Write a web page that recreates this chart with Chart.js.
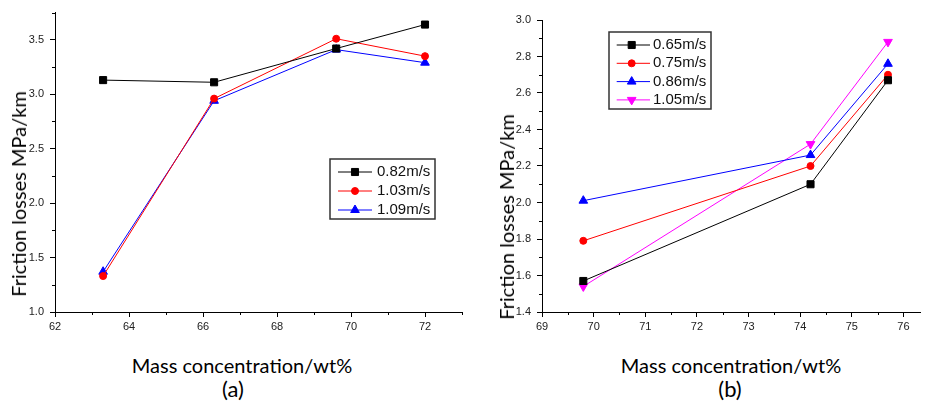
<!DOCTYPE html>
<html>
<head>
<meta charset="utf-8">
<script src="https://cdn.jsdelivr.net/npm/chart.js@4/dist/chart.umd.min.js"></script>
<style>
  body { margin: 0; width: 926px; height: 405px; background: #fff; position: relative; overflow: hidden; font-family: Lato, "Liberation Sans", sans-serif; color: #000; }
  canvas { position: absolute; top: 0; }
  .ytitle { position: absolute; font-size: 20px; white-space: nowrap; transform: translate(-50%, -50%) rotate(-90deg); }
  .xtitle { position: absolute; font-size: 20px; white-space: nowrap; transform: translate(-50%, -50%); }
  .tag { position: absolute; font-size: 22px; transform: translate(-50%, -50%); }
</style>
</head>
<body>
<canvas id="chartA" width="470" height="345" style="left:0"></canvas>
<canvas id="chartB" width="456" height="345" style="left:470px"></canvas>

<div class="ytitle" style="left:18px; top:194px">Friction losses MPa/km</div>
<div class="ytitle" style="left:506px; top:217px">Friction losses MPa/km</div>
<div class="xtitle" style="left:242px; top:365px">Mass concentration/wt%</div>
<div class="xtitle" style="left:731px; top:365px">Mass concentration/wt%</div>
<div class="tag" style="left:233px; top:388px">(a)</div>
<div class="tag" style="left:730px; top:388px">(b)</div>

<script>
// (a) mass concentration vs friction loss
const concA = [63.3, 66.3, 69.6, 72.0];
const lossA082 = [3.13, 3.11, 3.42, 3.64];
const lossA103 = [1.33, 2.96, 3.51, 3.35];
const lossA109 = [1.37, 2.94, 3.41, 3.29];
const labelsA = ['0.82m/s', '1.03m/s', '1.09m/s'];

// (b)
const concB = [69.8, 74.2, 75.7];
const lossB065 = [1.57, 2.10, 2.67];
const lossB075 = [1.79, 2.20, 2.70];
const lossB086 = [2.01, 2.26, 2.76];
const lossB105 = [1.54, 2.32, 2.88];
const labelsB = ['0.65m/s', '0.75m/s', '0.86m/s', '1.05m/s'];

const toPoints = (xs, ys) => xs.map((x, i) => ({ x: x, y: ys[i] }));

const series = (label, xs, ys, color, style, radius, rotation) => ({
  label: label,
  data: toPoints(xs, ys),
  showLine: true,
  borderColor: color,
  backgroundColor: color,
  borderWidth: 1,
  pointStyle: style,
  pointRadius: radius,
  pointRotation: rotation || 0,
  pointBorderWidth: 1,
  pointHoverRadius: radius
});

// short ticks for the unlabeled values
const minorTicks = {
  id: 'minorTicks',
  afterDraw(chart) {
    const ctx = chart.ctx;
    ctx.save();
    ctx.strokeStyle = '#000';
    ctx.lineWidth = 1;
    Object.values(chart.scales).forEach(scale => {
      scale.ticks.forEach(t => {
        if (t.label !== '') return;
        const p = Math.round(scale.getPixelForValue(t.value)) + 0.5;
        ctx.beginPath();
        if (scale.isHorizontal()) {
          ctx.moveTo(p, scale.top);
          ctx.lineTo(p, scale.top + 3);
        } else {
          ctx.moveTo(scale.right, p);
          ctx.lineTo(scale.right - 3, p);
        }
        ctx.stroke();
      });
    });
    ctx.restore();
  }
};

// boxed legend drawn inside the plot
const boxLegend = {
  id: 'boxLegend',
  afterDraw(chart, args, o) {
    const ctx = chart.ctx;
    ctx.save();
    ctx.lineWidth = 1.5;
    ctx.strokeStyle = '#333';
    ctx.strokeRect(o.x, o.y, o.w, o.h);
    ctx.font = '15px "Liberation Sans", Arial, sans-serif';
    ctx.textBaseline = 'middle';
    chart.data.datasets.forEach((ds, i) => {
      const y = o.y + o.first + i * o.rowH;
      ctx.strokeStyle = ds.borderColor;
      ctx.fillStyle = ds.backgroundColor;
      ctx.lineWidth = 1;
      ctx.beginPath();
      ctx.moveTo(o.x + o.line0, y);
      ctx.lineTo(o.x + o.line1, y);
      ctx.stroke();
      Chart.helpers.drawPoint(ctx, { pointStyle: ds.pointStyle, rotation: ds.pointRotation, radius: ds.pointRadius, borderWidth: 1 }, o.x + o.mark, y);
      ctx.fillStyle = '#111';
      ctx.fillText(ds.label, o.x + o.text, y);
    });
    ctx.restore();
  }
};

const tickFont = { family: '"Liberation Sans", Arial, sans-serif', size: 11 };

function axis(min, max, step, everyN, decimals, width, height) {
  return {
    type: 'linear',
    min: min,
    max: max,
    border: { color: '#000', width: 1 },
    grid: {
      drawOnChartArea: false,
      tickLength: 5,
      tickColor: c => (c.tick && c.tick.label === '') ? 'rgba(0,0,0,0)' : '#000'
    },
    ticks: {
      stepSize: step,
      includeBounds: false,
      autoSkip: false,
      maxRotation: 0,
      color: '#222',
      font: tickFont,
      padding: width ? 6 : 3,
      callback: v => (Math.round(v / step) % everyN === 0) ? v.toFixed(decimals) : ''
    },
    afterFit: s => { if (width) s.width = width; if (height) s.height = height; }
  };
}

function baseOptions(xAxis, yAxis, pad, legend) {
  return {
    responsive: false,
    animation: false,
    devicePixelRatio: 1,
    layout: { padding: pad },
    plugins: { legend: { display: false }, tooltip: { enabled: false }, boxLegend: legend },
    scales: { x: xAxis, y: yAxis }
  };
}

new Chart(document.getElementById('chartA'), {
  type: 'scatter',
  data: {
    datasets: [
      series(labelsA[0], concA, lossA082, '#000000', 'rect', 5),
      series(labelsA[1], concA, lossA103, '#ff0000', 'circle', 3.5),
      series(labelsA[2], concA, lossA109, '#0000ff', 'triangle', 5)
    ]
  },
  options: baseOptions(
    axis(62, 73, 1, 2, 0, 0, 33),
    axis(1.0, 3.75, 0.25, 2, 1, 55, 0),
    { top: 10, right: 8, left: 0, bottom: 0 },
    { x: 330, y: 159, w: 105, h: 60, first: 13, rowH: 19, line0: 8, line1: 42, mark: 25, text: 47 }
  ),
  plugins: [minorTicks, boxLegend]
});

new Chart(document.getElementById('chartB'), {
  type: 'scatter',
  data: {
    datasets: [
      series(labelsB[0], concB, lossB065, '#000000', 'rect', 5),
      series(labelsB[1], concB, lossB075, '#ff0000', 'circle', 3.5),
      series(labelsB[2], concB, lossB086, '#0000ff', 'triangle', 5),
      series(labelsB[3], concB, lossB105, '#ff00ff', 'triangle', 5, 180)
    ]
  },
  options: baseOptions(
    axis(69, 76.32, 0.5, 2, 0, 0, 33),
    axis(1.4, 3.0, 0.1, 2, 1, 72, 0),
    { top: 20, right: 0, left: 0, bottom: 0 },
    { x: 139, y: 32, w: 102, h: 77, first: 13, rowH: 18.3, line0: 7.7, line1: 41, mark: 22.7, text: 44 }
  ),
  plugins: [minorTicks, boxLegend]
});
</script>
</body>
</html>
